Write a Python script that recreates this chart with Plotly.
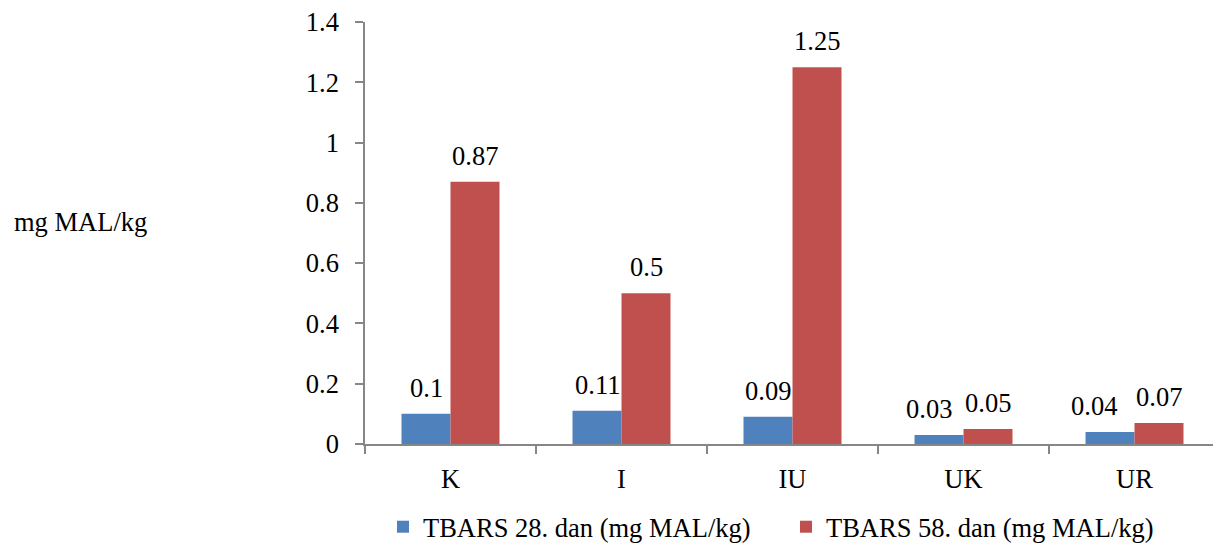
import plotly.graph_objects as go

# Sample groups and TBARS values (mg MAL/kg)
categories = ["K", "I", "IU", "UK", "UR"]
tbars_day28 = [0.10, 0.11, 0.09, 0.03, 0.04]
tbars_day58 = [0.87, 0.50, 1.25, 0.05, 0.07]
series_names = ["TBARS 28. dan (mg MAL/kg)", "TBARS 58. dan (mg MAL/kg)"]
y_ticks = [0, 0.2, 0.4, 0.6, 0.8, 1.0, 1.2, 1.4]
y_tick_text = ["0", "0.2", "0.4", "0.6", "0.8", "1", "1.2", "1.4"]

FONT = "Liberation Serif"
FS = 26.5
BLUE = "#4F81BD"
RED = "#C0504D"
AXIS = "#868686"
BARGAP = 0.427

W, H = 1213, 544
ML, MR, MT, MB = 365, 0, 22, 100

fig = go.Figure()
fig.add_trace(go.Bar(x=categories, y=tbars_day28, name=series_names[0],
                     marker=dict(color=BLUE, line=dict(width=0))))
fig.add_trace(go.Bar(x=categories, y=tbars_day58, name=series_names[1],
                     marker=dict(color=RED, line=dict(width=0))))

# value labels above each bar
half = (1 - BARGAP) / 4
label_dx = {(0, 3): -10, (0, 4): -16}
for s, vals in enumerate([tbars_day28, tbars_day58]):
    for i, v in enumerate(vals):
        fig.add_annotation(
            x=i + (-half if s == 0 else half), y=v, xref="x", yref="y",
            text=f"{v:g}", showarrow=False, yanchor="bottom",
            yshift=9, xshift=label_dx.get((s, i), 0),
            font=dict(family=FONT, size=FS, color="black"),
        )

# vertical axis title, placed horizontally left of the plot
plot_w = W - ML - MR
plot_h = H - MT - MB
fig.add_annotation(
    x=(12 - ML) / plot_w, y=(H - MB - 222) / plot_h,
    xref="paper", yref="paper", text="mg MAL/kg",
    showarrow=False, xanchor="left", yanchor="middle",
    font=dict(family=FONT, size=FS, color="black"),
)

fig.update_layout(
    width=W, height=H,
    margin=dict(l=ML, r=MR, t=MT, b=MB, pad=0, autoexpand=False),
    paper_bgcolor="white", plot_bgcolor="white",
    barmode="group", bargap=BARGAP, bargroupgap=0,
    font=dict(family=FONT, size=FS, color="black"),
    showlegend=True,
    legend=dict(orientation="h", x=(383 - ML) / plot_w, xanchor="left",
                y=(H - MB - 527) / plot_h, yanchor="middle",
                font=dict(family=FONT, size=FS),
                itemwidth=30, entrywidth=358, traceorder="normal"),
    xaxis=dict(type="category", range=[-0.5, 4.459], tickson="boundaries",
               ticks="outside", ticklen=8, tickcolor=AXIS, tickwidth=1.5,
               showline=True, linecolor=AXIS, linewidth=1.5,
               showgrid=False, zeroline=False, ticklabelstandoff=10,
               tickfont=dict(family=FONT, size=FS, color="black")),
    yaxis=dict(range=[0, 1.4], tickvals=y_ticks, ticktext=y_tick_text,
               ticks="outside", ticklen=8, tickcolor=AXIS, tickwidth=1.5,
               showline=True, linecolor=AXIS, linewidth=1.5,
               showgrid=False, zeroline=False, ticklabelstandoff=11,
               tickfont=dict(family=FONT, size=FS, color="black")),
)

fig.write_html("out.html")
